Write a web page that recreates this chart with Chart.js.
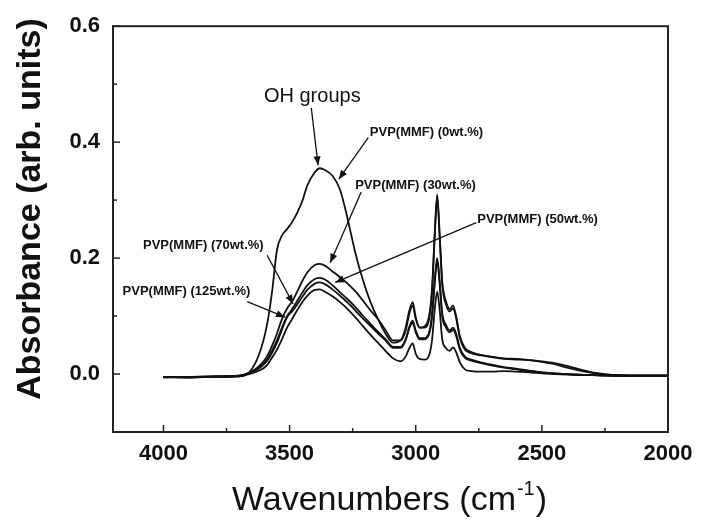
<!DOCTYPE html>
<html>
<head>
<meta charset="utf-8">
<script src="https://cdn.jsdelivr.net/npm/chart.js@4.4.0/dist/chart.umd.min.js"></script>
<style>
html,body{margin:0;padding:0;background:#fff;}
#wrap{width:702px;height:522px;}
</style>
</head>
<body>
<div id="wrap"><canvas id="c" width="702" height="522"></canvas></div>
<script>
// ---------- data ----------
const wavenumbers = [
  4000,3900,3800,3700,3660,3620,3590,3570,3550,3530,
  3510,3490,3470,3450,3430,3400,3380,3360,3330,3300,
  3270,3240,3210,3180,3150,3120,3090,3060,3040,3025,
  3012,3000,2985,2965,2945,2935,2925,2915,2905,2895,
  2880,2865,2852,2840,2825,2805,2780,2740,2700,2650,
  2600,2550,2500,2450,2400,2350,2300,2250,2200,2100,
  2000];

const pvp0 = [
  -0.005,-0.006,-0.004,-0.004,0.003,0.035,0.084,0.140,0.214,0.239,
  0.250,0.262,0.278,0.298,0.325,0.348,0.355,0.352,0.342,0.318,
  0.268,0.210,0.163,0.125,0.095,0.070,0.054,0.058,0.080,0.110,
  0.124,0.098,0.080,0.082,0.105,0.150,0.240,0.310,0.240,0.160,
  0.125,0.112,0.118,0.100,0.065,0.045,0.038,0.033,0.030,0.027,
  0.026,0.024,0.021,0.017,0.011,0.006,0.002,-0.001,-0.002,-0.003,
  -0.003];

const pvp30 = [
  -0.005,-0.005,-0.004,-0.003,0.002,0.014,0.030,0.048,0.070,0.095,
  0.113,0.125,0.142,0.160,0.175,0.188,0.190,0.187,0.177,0.167,
  0.156,0.143,0.127,0.110,0.095,0.076,0.058,0.058,0.075,0.105,
  0.118,0.095,0.080,0.080,0.100,0.145,0.235,0.305,0.235,0.155,
  0.120,0.108,0.113,0.097,0.062,0.042,0.036,0.032,0.029,0.026,
  0.025,0.024,0.022,0.019,0.014,0.008,0.003,0.000,-0.002,-0.003,
  -0.003];

const pvp50 = [
  -0.005,-0.005,-0.005,-0.003,0.002,0.012,0.025,0.040,0.058,0.080,
  0.100,0.112,0.126,0.140,0.153,0.164,0.166,0.163,0.153,0.141,
  0.129,0.116,0.101,0.087,0.073,0.060,0.047,0.047,0.060,0.082,
  0.092,0.075,0.062,0.062,0.075,0.105,0.160,0.200,0.160,0.105,
  0.085,0.075,0.080,0.070,0.045,0.030,0.025,0.020,0.016,0.012,
  0.009,0.006,0.003,0.001,0.000,-0.001,-0.002,-0.002,-0.003,-0.003,
  -0.003];

const pvp70 = [
  -0.006,-0.005,-0.004,-0.003,0.001,0.010,0.022,0.036,0.054,0.077,
  0.098,0.108,0.120,0.133,0.145,0.156,0.158,0.155,0.146,0.135,
  0.123,0.110,0.096,0.083,0.070,0.058,0.045,0.045,0.058,0.080,
  0.088,0.072,0.060,0.060,0.072,0.100,0.155,0.195,0.155,0.100,
  0.080,0.072,0.076,0.066,0.042,0.028,0.023,0.019,0.015,0.011,
  0.008,0.005,0.003,0.001,0.000,-0.001,-0.002,-0.002,-0.003,-0.003,
  -0.003];

const pvp125 = [
  -0.005,-0.006,-0.005,-0.004,0.000,0.006,0.015,0.028,0.042,0.060,
  0.080,0.095,0.110,0.124,0.135,0.145,0.146,0.142,0.134,0.124,
  0.112,0.098,0.083,0.068,0.054,0.040,0.027,0.022,0.030,0.045,
  0.053,0.035,0.026,0.025,0.035,0.060,0.110,0.142,0.110,0.060,
  0.045,0.040,0.046,0.038,0.020,0.008,0.005,0.004,0.004,0.005,
  0.004,0.003,0.001,0.000,-0.001,-0.002,-0.002,-0.003,-0.003,-0.003,
  -0.003];

const seriesNames = ['PVP(MMF) (0wt.%)','PVP(MMF) (30wt.%)','PVP(MMF) (50wt.%)','PVP(MMF) (70wt.%)','PVP(MMF) (125wt.%)'];
const seriesValues = [pvp0, pvp30, pvp50, pvp70, pvp125];

const xTickValues = [4000, 3500, 3000, 2500, 2000];
const xMinorTicks = [3750, 3250, 2750, 2250];
const yTickValues = [0.0, 0.2, 0.4, 0.6];
const yMinorTicks = [0.1, 0.3, 0.5];

// annotations in data coordinates (wavenumber, absorbance)
const textNotes = [
  {text:'OH groups',            w:3410, v:0.478, bold:false, size:20, align:'center'},
  {text:'PVP(MMF) (0wt.%)',     w:3182, v:0.417, bold:true,  size:13, align:'left'},
  {text:'PVP(MMF) (30wt.%)',    w:3240, v:0.325, bold:true,  size:13, align:'left'},
  {text:'PVP(MMF) (50wt.%)',    w:2756, v:0.266, bold:true,  size:13, align:'left'},
  {text:'PVP(MMF) (70wt.%)',    w:4081, v:0.222, bold:true,  size:13, align:'left'},
  {text:'PVP(MMF) (125wt.%)',   w:4162, v:0.142, bold:true,  size:13, align:'left'}
];
const arrowNotes = [
  {from:[3414,0.459], to:[3387,0.360]},
  {from:[3188,0.408], to:[3305,0.336]},
  {from:[3216,0.314], to:[3339,0.192]},
  {from:[2760,0.261], to:[3319,0.158]},
  {from:[3589,0.205], to:[3486,0.121]},
  {from:[3668,0.125], to:[3518,0.098]}
];

// ---------- drawing ----------
const FONT = '"Liberation Sans", Arial, Helvetica, sans-serif';
const INK = '#111';

const datasets = seriesValues.map((vals, k) => ({
  label: seriesNames[k],
  data: wavenumbers.map((w, i) => ({x: w, y: vals[i]})),
  borderColor: INK,
  borderWidth: 1.8,
  pointRadius: 0,
  fill: false,
  tension: 0.35,
  cubicInterpolationMode: 'monotone'
}));

function arrow(ctx, x1, y1, x2, y2) {
  ctx.beginPath(); ctx.moveTo(x1, y1); ctx.lineTo(x2, y2); ctx.stroke();
  const ang = Math.atan2(y2 - y1, x2 - x1), L = 9, H = 3.6;
  ctx.beginPath();
  ctx.moveTo(x2, y2);
  ctx.lineTo(x2 - L*Math.cos(ang) + H*Math.sin(ang), y2 - L*Math.sin(ang) - H*Math.cos(ang));
  ctx.lineTo(x2 - L*Math.cos(ang) - H*Math.sin(ang), y2 - L*Math.sin(ang) + H*Math.cos(ang));
  ctx.closePath(); ctx.fill();
}

const decorPlugin = {
  id: 'decor',
  afterDraw(chart) {
    const {ctx, chartArea: a, scales: {x, y}} = chart;
    ctx.save();
    // frame
    ctx.strokeStyle = '#222'; ctx.lineWidth = 2;
    ctx.strokeRect(a.left, a.top, a.right - a.left, a.bottom - a.top);
    // inward ticks
    ctx.lineWidth = 1.5;
    const seg = (x1,y1,x2,y2)=>{ctx.beginPath();ctx.moveTo(x1,y1);ctx.lineTo(x2,y2);ctx.stroke();};
    xTickValues.forEach(t => { const p = x.getPixelForValue(t); seg(p, a.bottom, p, a.bottom - 7); });
    xMinorTicks.forEach(t => { const p = x.getPixelForValue(t); seg(p, a.bottom, p, a.bottom - 4); });
    yTickValues.forEach(t => { const p = y.getPixelForValue(t); seg(a.left, p, a.left + 7, p); });
    yMinorTicks.forEach(t => { const p = y.getPixelForValue(t); seg(a.left, p, a.left + 4, p); });

    // annotations
    ctx.fillStyle = INK; ctx.strokeStyle = INK; ctx.lineWidth = 1.3;
    arrowNotes.forEach(n => {
      arrow(ctx, x.getPixelForValue(n.from[0]), y.getPixelForValue(n.from[1]),
                 x.getPixelForValue(n.to[0]),   y.getPixelForValue(n.to[1]));
    });
    ctx.textBaseline = 'middle';
    textNotes.forEach(n => {
      ctx.font = (n.bold ? 'bold ' : '') + n.size + 'px ' + FONT;
      ctx.textAlign = n.align;
      ctx.fillText(n.text, x.getPixelForValue(n.w), y.getPixelForValue(n.v));
    });

    // y axis title
    ctx.save();
    ctx.translate(31, 209);
    ctx.rotate(-Math.PI / 2);
    ctx.font = 'bold 34px ' + FONT;
    ctx.textAlign = 'center';
    ctx.fillText('Absorbance (arb. units)', 0, 0);
    ctx.restore();

    // x axis title with superscript
    const main = 'Wavenumbers (cm', sup = '-1', close = ')';
    ctx.font = '34px ' + FONT; const w1 = ctx.measureText(main).width, w3 = ctx.measureText(close).width;
    ctx.font = '20px ' + FONT; const w2 = ctx.measureText(sup).width;
    const cx = (a.left + a.right) / 2 - 1, total = w1 + w2 + w3 + 2;
    let sx = cx - total / 2, base = 510;
    ctx.textAlign = 'left'; ctx.textBaseline = 'alphabetic';
    ctx.font = '34px ' + FONT; ctx.fillText(main, sx, base); sx += w1 + 1;
    ctx.font = '20px ' + FONT; ctx.fillText(sup, sx, base - 15); sx += w2 + 1;
    ctx.font = '34px ' + FONT; ctx.fillText(close, sx, base);
    ctx.restore();
  }
};

new Chart(document.getElementById('c'), {
  type: 'line',
  data: {datasets},
  options: {
    responsive: false,
    animation: false,
    events: [],
    layout: {padding: {left: 0, right: 34, top: 21, bottom: 0}},
    plugins: {legend: {display: false}, tooltip: {enabled: false}},
    scales: {
      x: {
        type: 'linear', reverse: true, min: 2000, max: 4200,
        grid: {display: false, drawTicks: false},
        border: {display: false},
        afterBuildTicks: s => { s.ticks = xTickValues.map(v => ({value: v})); },
        afterFit: s => { s.height = 90; },
        ticks: {font: {family: FONT, size: 22, weight: 'bold'}, color: INK, padding: 9,
                maxRotation: 0, autoSkip: false, callback: v => String(v)}
      },
      y: {
        type: 'linear', min: -0.1, max: 0.6,
        grid: {display: false, drawTicks: false},
        border: {display: false},
        afterBuildTicks: s => { s.ticks = yTickValues.map(v => ({value: v})); },
        afterFit: s => { s.width = 113; },
        ticks: {font: {family: FONT, size: 22, weight: 'bold'}, color: INK, padding: 13,
                callback: v => Number(v).toFixed(1)}
      }
    }
  },
  plugins: [decorPlugin]
});
</script>
</body>
</html>
